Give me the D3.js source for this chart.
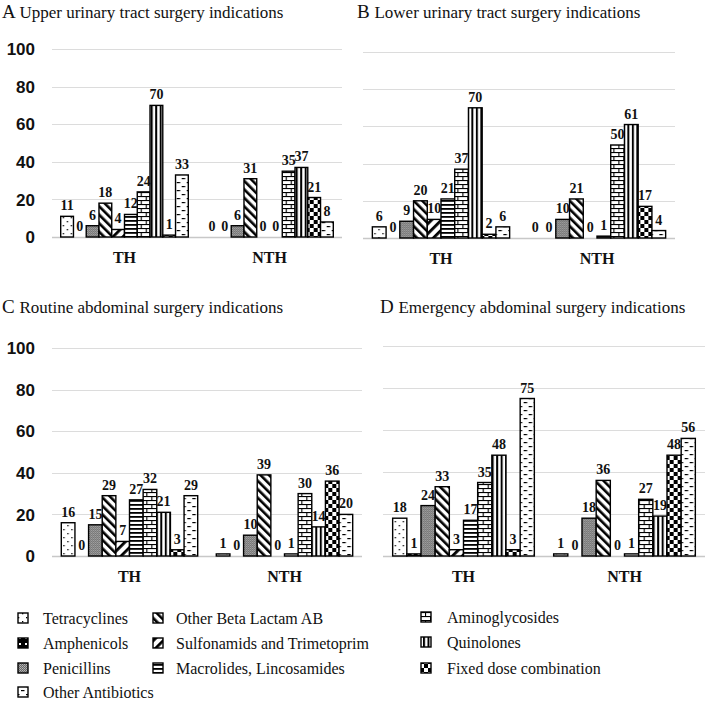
<!DOCTYPE html>
<html>
<head>
<meta charset="utf-8">
<script src="https://cdn.jsdelivr.net/npm/d3@7"></script>
<style>
  html, body { margin: 0; padding: 0; background: #fff; }
  svg { display: block; }
</style>
</head>
<body>
<svg id="chart" width="709" height="702"></svg>
<script>
// ---------- DATA ----------
const seriesNames = [
  "Tetracyclines", "Amphenicols", "Penicillins", "Other Beta Lactam AB",
  "Sulfonamids and Trimetoprim", "Macrolides, Lincosamides", "Aminoglycosides",
  "Quinolones", "Fixed dose combination", "Other Antibiotics"
];
const groups = ["TH", "NTH"];
const yTicks = [0, 20, 40, 60, 80, 100];

const panelLetters = ["A", "B", "C", "D"];
const panelTitles = [
  "Upper urinary tract surgery indications",
  "Lower urinary tract surgery indications",
  "Routine abdominal surgery indications",
  "Emergency abdominal surgery indications"
];

const upperTH  = [11, 0, 6, 18, 4, 12, 24, 70, 1, 33];
const upperNTH = [0, 0, 6, 31, 0, 0, 35, 37, 21, 8];
const lowerTH  = [6, 0, 9, 20, 10, 21, 37, 70, 2, 6];
const lowerNTH = [0, 0, 10, 21, 0, 1, 50, 61, 17, 4];
const routineTH  = [16, 0, 15, 29, 7, 27, 32, 21, 3, 29];
const routineNTH = [1, 0, 10, 39, 0, 1, 30, 14, 36, 20];
const emergTH  = [18, 1, 24, 33, 3, 17, 35, 48, 3, 75];
const emergNTH = [1, 0, 18, 36, 0, 1, 27, 19, 48, 56];

const panelData = [
  [upperTH, upperNTH],
  [lowerTH, lowerNTH],
  [routineTH, routineNTH],
  [emergTH, emergNTH]
];

// legend columns (indices into seriesNames)
const legendCols = [[0, 1, 2, 9], [3, 4, 5], [6, 7, 8]];

// ---------- LAYOUT ----------
const SERIF = "'Liberation Serif', 'Times New Roman', serif";
const SANS = "'Liberation Sans', Arial, sans-serif";
const panels = [
  { x0: 52,  x1: 342, yBase: 237, yTop: 49,  showY: true,  titleX: 2,   titleY: 18 },
  { x0: 363, x1: 675, yBase: 238, yTop: 52,  showY: false, titleX: 357, titleY: 18 },
  { x0: 52,  x1: 362, yBase: 556, yTop: 348, showY: true,  titleX: 2,   titleY: 313 },
  { x0: 383, x1: 705, yBase: 556, yTop: 346, showY: false, titleX: 380, titleY: 313 }
];

const svg = d3.select("#chart");
const defs = svg.append("defs");

// ---------- PATTERNS ----------
function pat(id, w, h, transform) {
  const p = defs.append("pattern").attr("id", id)
    .attr("patternUnits", "userSpaceOnUse").attr("width", w).attr("height", h);
  if (transform) p.attr("patternTransform", transform);
  p.append("rect").attr("width", w).attr("height", h).attr("fill", "#fff");
  return p;
}
// 0 Tetracyclines: sparse dots
let p = pat("p0", 8, 8);
p.append("rect").attr("x", 2).attr("y", 1).attr("width", 1.3).attr("height", 1.3).attr("fill", "#000");
p.append("rect").attr("x", 6).attr("y", 5).attr("width", 1.3).attr("height", 1.3).attr("fill", "#000");
// 1 Amphenicols: black with white spots
p = pat("p1", 6, 6);
p.append("rect").attr("width", 6).attr("height", 6).attr("fill", "#000");
p.append("rect").attr("x", 1).attr("y", 1).attr("width", 2).attr("height", 2).attr("fill", "#fff");
// 2 Penicillins: fine gray stipple
p = pat("p2", 2, 2);
p.append("rect").attr("width", 2).attr("height", 2).attr("fill", "#666");
p.append("rect").attr("x", 0).attr("y", 0).attr("width", 1).attr("height", 1).attr("fill", "#b8b8b8");
p.append("rect").attr("x", 1).attr("y", 1).attr("width", 1).attr("height", 1).attr("fill", "#a0a0a0");
// 3 Other Beta Lactam: "\" thick stripes
p = pat("p3", 6, 6, "rotate(-45)");
p.append("rect").attr("x", 0).attr("width", 2.6).attr("height", 6).attr("fill", "#000");
// 4 Sulfonamids: "/" thick stripes
p = pat("p4", 7, 7, "rotate(45)");
p.append("rect").attr("x", 0).attr("width", 2.8).attr("height", 7).attr("fill", "#000");
// 5 Macrolides: horizontal stripes
p = pat("p5", 4, 4);
p.append("rect").attr("y", 0).attr("width", 4).attr("height", 1.8).attr("fill", "#000");
// 6 Aminoglycosides: bricks
p = pat("p6", 10, 8);
p.append("rect").attr("y", 0).attr("width", 10).attr("height", 1.1).attr("fill", "#000");
p.append("rect").attr("y", 4).attr("width", 10).attr("height", 1.1).attr("fill", "#000");
p.append("rect").attr("x", 0).attr("y", 0).attr("width", 1.1).attr("height", 4).attr("fill", "#000");
p.append("rect").attr("x", 5).attr("y", 4).attr("width", 1.1).attr("height", 4).attr("fill", "#000");
// 7 Quinolones: vertical stripes
p = pat("p7", 4.5, 4);
p.append("rect").attr("x", 0).attr("width", 2).attr("height", 4).attr("fill", "#000");
// 8 Fixed dose combination: checkerboard
p = pat("p8", 8, 8);
p.append("rect").attr("x", 0).attr("y", 0).attr("width", 4).attr("height", 4).attr("fill", "#000");
p.append("rect").attr("x", 4).attr("y", 4).attr("width", 4).attr("height", 4).attr("fill", "#000");
// 9 Other Antibiotics: short dashes
p = pat("p9", 10, 8);
p.append("rect").attr("x", 1).attr("y", 2).attr("width", 3.5).attr("height", 1.2).attr("fill", "#000");
p.append("rect").attr("x", 6).attr("y", 6).attr("width", 3.5).attr("height", 1.2).attr("fill", "#000");

const fillFor = i => `url(#p${i})`;

// ---------- PANELS ----------
panels.forEach((cfg, pi) => {
  const g = svg.append("g");
  const y = d3.scaleLinear().domain([0, 100]).range([cfg.yBase, cfg.yTop]);
  const x0 = d3.scaleBand().domain(groups).range([cfg.x0, cfg.x1])
    .paddingInner(0.12).paddingOuter(0.06);
  const x1 = d3.scaleBand().domain(seriesNames).range([0, x0.bandwidth()]).padding(0);

  // title
  const t = g.append("text").attr("x", cfg.titleX).attr("y", cfg.titleY)
    .attr("font-family", SERIF).attr("fill", "#111");
  t.append("tspan").attr("font-size", 19).text(panelLetters[pi] + " ");
  t.append("tspan").attr("font-size", 17).text(panelTitles[pi]);

  // gridlines
  g.selectAll("line.grid").data(yTicks).join("line")
    .attr("x1", cfg.x0).attr("x2", cfg.x1)
    .attr("y1", d => Math.round(y(d)) + 0.5).attr("y2", d => Math.round(y(d)) + 0.5)
    .attr("stroke", d => d === 0 ? "#c8c8c8" : "#dcdcdc").attr("stroke-width", d => d === 0 ? 1.5 : 1);

  // y tick labels
  if (cfg.showY) {
    g.selectAll("text.ytick").data(yTicks).join("text")
      .attr("x", 35).attr("y", d => y(d)).attr("dy", "0.36em")
      .attr("text-anchor", "end")
      .attr("font-family", SANS)
      .attr("font-weight", "bold").attr("font-size", 17).attr("fill", "#111")
      .text(d => d);
  }

  // group labels
  g.selectAll("text.glab").data(groups).join("text")
    .attr("x", d => x0(d) + x0.bandwidth() / 2)
    .attr("y", cfg.yBase + 26)
    .attr("text-anchor", "middle")
    .attr("font-family", SERIF)
    .attr("font-weight", "bold").attr("font-size", 16).attr("fill", "#111")
    .text(d => d);

  // bars
  groups.forEach((grp, gi) => {
    const vals = panelData[pi][gi];
    const gg = g.append("g").attr("transform", `translate(${x0(grp)},0)`);
    gg.selectAll("rect").data(vals).join("rect")
      .attr("x", (d, i) => x1(seriesNames[i]))
      .attr("y", d => y(d))
      .attr("width", x1.bandwidth())
      .attr("height", d => cfg.yBase - y(d))
      .attr("fill", (d, i) => fillFor(i))
      .attr("stroke", "#000").attr("stroke-width", 1.4)
      .attr("visibility", d => d > 0 ? "visible" : "hidden");
    gg.selectAll("text").data(vals).join("text")
      .attr("x", (d, i) => x1(seriesNames[i]) + x1.bandwidth() / 2)
      .attr("y", d => y(d) - 6)
      .attr("text-anchor", "middle")
      .attr("font-family", SERIF)
      .attr("font-weight", "bold").attr("font-size", 14).attr("fill", "#111")
      .text(d => d);
  });
});

// ---------- LEGEND ----------
const legendX = [{ icon: 18, text: 43 }, { icon: 153, text: 176 }, { icon: 421, text: 447 }];
const legendY = [[618, 643, 668, 692], [618, 643, 668], [617, 642, 668]];
const lg = svg.append("g");
legendCols.forEach((col, ci) => {
  col.forEach((si, ri) => {
    const cy = legendY[ci][ri];
    lg.append("rect")
      .attr("x", legendX[ci].icon).attr("y", cy - 5)
      .attr("width", 10).attr("height", 10)
      .attr("fill", fillFor(si)).attr("stroke", "#000").attr("stroke-width", 1.4);
    lg.append("text")
      .attr("x", legendX[ci].text).attr("y", cy).attr("dy", "0.35em")
      .attr("font-family", SERIF)
      .attr("font-size", 16).attr("fill", "#111")
      .text(seriesNames[si]);
  });
});
</script>
</body>
</html>
